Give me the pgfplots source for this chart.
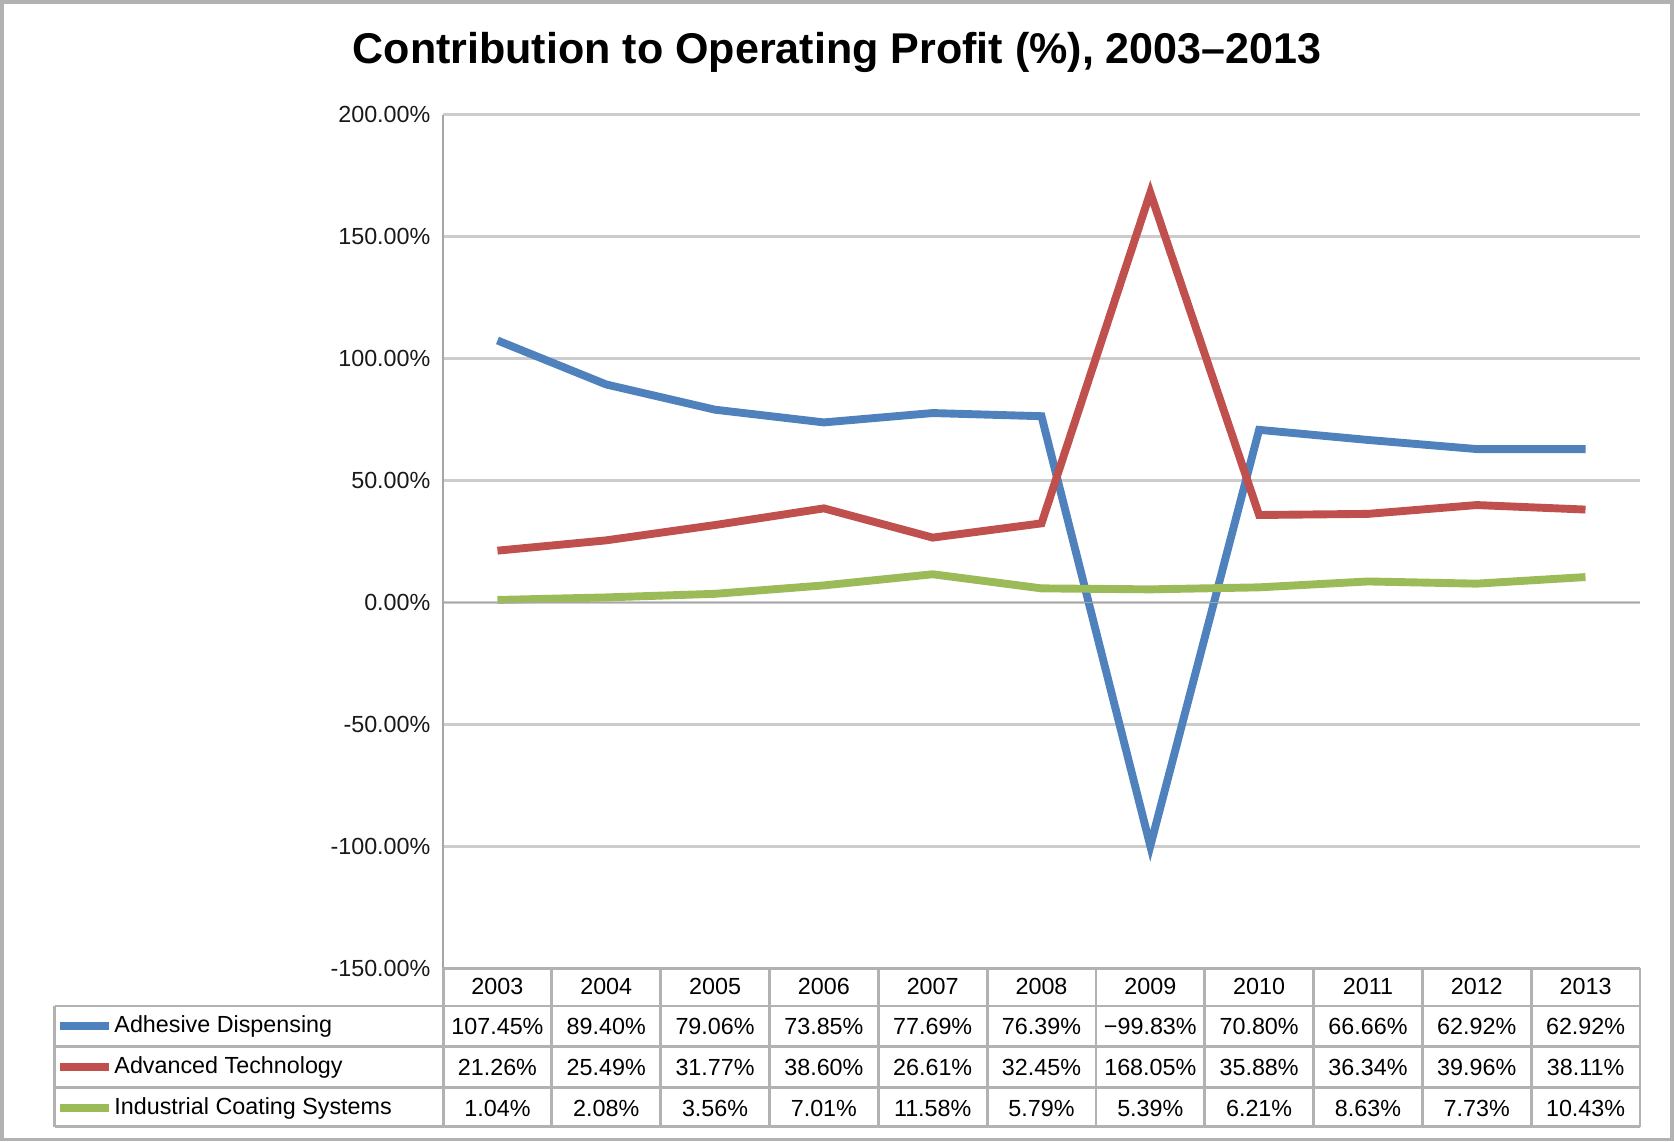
\documentclass[border=0pt]{standalone}
\usepackage{pgfplots}
\pgfplotsset{compat=1.18}
\usepackage{fontspec}
\setmainfont{Liberation Sans}
\definecolor{cb}{RGB}{79,129,189}
\definecolor{cr}{RGB}{192,80,77}
\definecolor{cg}{RGB}{155,187,89}
\begin{document}
\begin{tikzpicture}[x=0.3pt,y=-0.3pt]
\draw[gray!60,line width=1pt] (8,5) rectangle (1560,1062);
\node[font=\bfseries\fontsize{12}{14}\selectfont] at (784,52) {Contribution to Operating Profit (\%), 2003–2013};
\begin{axis}[at={(125.4pt,-33pt)},anchor=north west,scale only axis,
 width=333.6pt,height=237.9pt,
 xmin=-0.5,xmax=10.5,ymin=-150,ymax=200,
 ytick={-150,-100,...,200},
 yticklabel={\pgfmathprintnumber[fixed,fixed zerofill,precision=2]{\tick}\%},
 /pgf/number format/assume math mode=true,
 yticklabel style={font=\fontsize{6.5}{8}\selectfont,gray!20!black},
 xtick=\empty,
 axis x line=none, axis line style={gray!70},
 axis y line*=left,
 ymajorgrids, grid style={gray!40,line width=0.8pt},
 major tick length=0pt,
 clip=false]
\addplot[cb,line width=2.2pt] coordinates {(0,107.45)(1,89.40)(2,79.06)(3,73.85)(4,77.69)(5,76.39)(6,-99.83)(7,70.80)(8,66.66)(9,62.92)(10,62.92)};
\addplot[cr,line width=2.2pt] coordinates {(0,21.26)(1,25.49)(2,31.77)(3,38.60)(4,26.61)(5,32.45)(6,168.05)(7,35.88)(8,36.34)(9,39.96)(10,38.11)};
\addplot[cg,line width=2.2pt] coordinates {(0,1.04)(1,2.08)(2,3.56)(3,7.01)(4,11.58)(5,5.79)(6,5.39)(7,6.21)(8,8.63)(9,7.73)(10,10.43)};
\draw[gray!70] (axis cs:-0.5,0) -- (axis cs:10.5,0);
\end{axis}
% table
\draw[gray!60,line width=0.8pt] (418,903)--(1530,903);
\foreach \yy in {938,976,1014,1050} \draw[gray!60,line width=0.8pt] (57,\yy)--(1530,\yy);
\foreach \k in {0,...,11} \draw[gray!60,line width=0.8pt] (418+101.1*\k,903)--(418+101.1*\k,1050);
\draw[gray!60,line width=0.8pt] (57,938)--(57,1050);
\def\yrs{2003,2004,2005,2006,2007,2008,2009,2010,2011,2012,2013}
\foreach \t [count=\i from 0] in \yrs \node[font=\fontsize{6.5}{8}\selectfont] at (468.5+101.1*\i,920) {\t};
\foreach \t [count=\i from 0] in {107.45\%,89.40\%,79.06\%,73.85\%,77.69\%,76.39\%,−99.83\%,70.80\%,66.66\%,62.92\%,62.92\%} \node[font=\fontsize{6.5}{8}\selectfont] at (468.5+101.1*\i,957) {\t};
\foreach \t [count=\i from 0] in {21.26\%,25.49\%,31.77\%,38.60\%,26.61\%,32.45\%,168.05\%,35.88\%,36.34\%,39.96\%,38.11\%} \node[font=\fontsize{6.5}{8}\selectfont] at (468.5+101.1*\i,995) {\t};
\foreach \t [count=\i from 0] in {1.04\%,2.08\%,3.56\%,7.01\%,11.58\%,5.79\%,5.39\%,6.21\%,8.63\%,7.73\%,10.43\%} \node[font=\fontsize{6.5}{8}\selectfont] at (468.5+101.1*\i,1033) {\t};
\draw[cb,line width=2.2pt] (62,957)--(108,957);
\draw[cr,line width=2.2pt] (62,995)--(108,995);
\draw[cg,line width=2.2pt] (62,1033)--(108,1033);
\node[anchor=west,inner sep=0,font=\fontsize{6.5}{8}\selectfont] at (112,957) {Adhesive Dispensing};
\node[anchor=west,inner sep=0,font=\fontsize{6.5}{8}\selectfont] at (112,995) {Advanced Technology};
\node[anchor=west,inner sep=0,font=\fontsize{6.5}{8}\selectfont] at (112,1033) {Industrial Coating Systems};
\end{tikzpicture}
\end{document}
